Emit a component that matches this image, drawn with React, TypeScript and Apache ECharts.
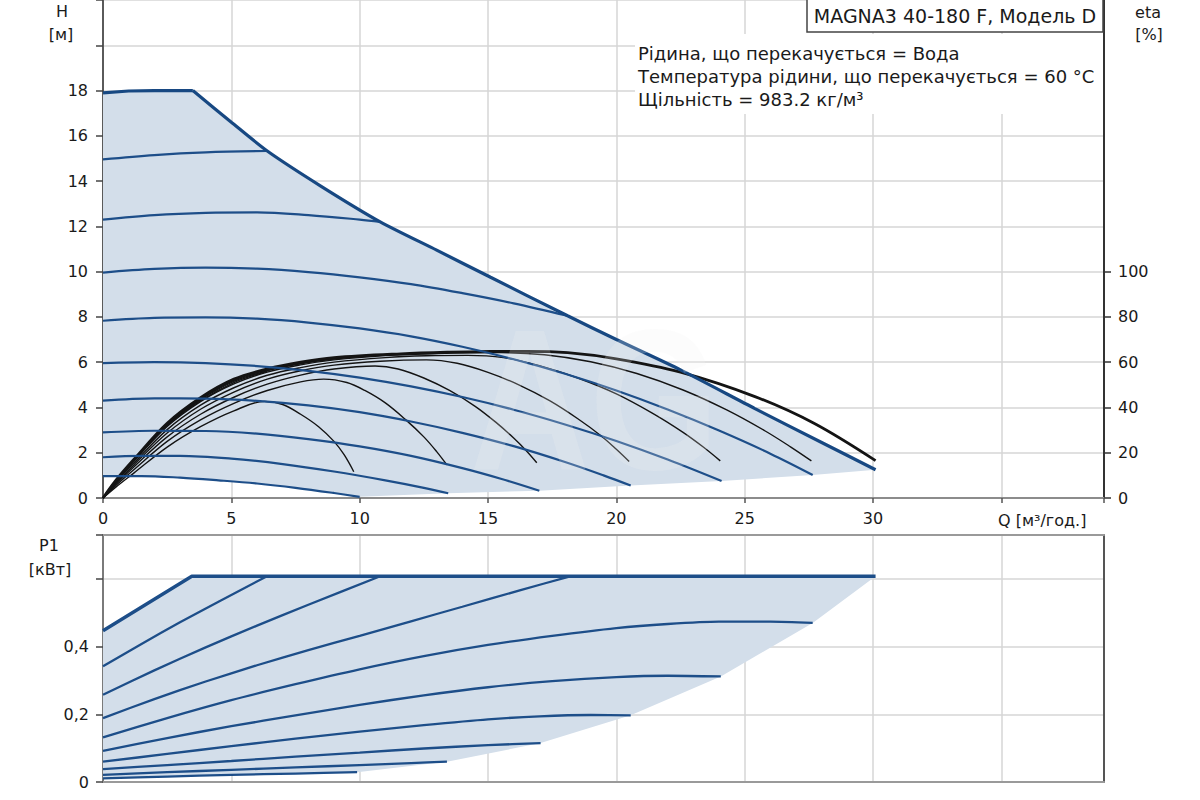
import React, { useEffect, useRef } from "react";
import * as echarts from "echarts";

// ---------- tick labels ----------
const Q_LABELS = [0, 5, 10, 15, 20, 25, 30];
const H_LABELS = [0, 2, 4, 6, 8, 10, 12, 14, 16, 18];
const ETA_LABELS = [0, 20, 40, 60, 80, 100];
const P_LABELS = ["0", "0,2", "0,4"];

// ---------- H curves [Q m3/h, H m] ----------
const H_MAX_FLAT = [[0, 17.9], [1, 17.98], [2, 18], [3.5, 18]];
const H_MAX_DROP = [[3.5, 18], [5, 16.6], [6.4, 15.33], [8.5, 13.77], [10.8, 12.2], [13, 10.95], [15.1, 9.75], [18.1, 8.05], [20, 7.0], [22.5, 5.66], [25.4, 3.95], [28, 2.45], [30.1, 1.25]];
const H_150 = [[0, 14.96], [2, 15.15], [4, 15.27], [6.4, 15.33]];
const H_123 = [[0, 12.3], [2, 12.5], [4, 12.6], [6, 12.62], [8, 12.5], [10, 12.3], [10.8, 12.2]];
const H_100 = [[0, 9.96], [2, 10.12], [4, 10.18], [6, 10.13], [8, 9.98], [10, 9.75], [12, 9.45], [14, 9.05], [16, 8.6], [18.1, 8.05]];
const H_079 = [[0, 7.83], [2, 7.96], [4, 7.98], [6, 7.92], [8, 7.75], [10, 7.49], [12, 7.14], [14, 6.68], [16, 6.13], [18, 5.49], [20, 4.75], [22, 3.91], [24, 2.98], [26, 1.96], [27.65, 1.02]];
const H_060 = [[0, 5.96], [2, 6.0], [4, 5.96], [6, 5.83], [8, 5.62], [10, 5.32], [12, 4.93], [14, 4.46], [16, 3.9], [18, 3.25], [20, 2.52], [22, 1.7], [24.1, 0.75]];
const H_043 = [[0, 4.3], [2, 4.4], [4, 4.39], [6, 4.29], [8, 4.09], [10, 3.79], [12, 3.38], [14, 2.88], [16, 2.29], [18, 1.59], [19.5, 1.0], [20.56, 0.55]];
const H_029 = [[0, 2.9], [2, 2.97], [4, 2.96], [6, 2.84], [8, 2.6], [10, 2.28], [12, 1.86], [14, 1.32], [15.5, 0.85], [17, 0.32]];
const H_018 = [[0, 1.8], [1.5, 1.86], [3, 1.86], [5, 1.74], [7, 1.5], [9, 1.17], [11, 0.78], [12.5, 0.45], [13.45, 0.21]];
const H_010 = [[0, 0.97], [1.5, 0.97], [3, 0.9], [4.5, 0.78], [6, 0.64], [7.5, 0.45], [9, 0.22], [10, 0.05]];

// ---------- efficiency curves [Q, eta %] ----------
const ETA_MAX = [[0, 0], [0.5, 7.8], [1.2, 17], [2.5, 33], [3.8, 44.3], [5.1, 52.5], [6.4, 57], [7.7, 60], [9, 62], [11.6, 63.7], [13.5, 64.4], [15.1, 64.7], [16.5, 64.8], [18.1, 64.2], [20, 61.5], [22.5, 55.6], [25.4, 44.8], [27.7, 33], [30.1, 16.5]];
const ETA_150 = [[0, 0], [0.5, 7.5], [1.2, 16.4], [2.5, 32], [3.8, 43], [5.1, 51], [6.4, 56]];
const ETA_123 = [[0, 0], [0.5, 7.6], [1.2, 16.6], [2.5, 32.3], [3.8, 43.4], [5.1, 51.5], [6.4, 56.2], [7.7, 59.3], [9, 61.4], [10.8, 63]];
const ETA_100 = [[0, 0], [0.5, 7.7], [1.2, 16.8], [2.5, 32.6], [3.8, 43.8], [5.1, 52], [6.4, 56.6], [7.7, 59.6], [9, 61.6], [11, 63.3], [13, 64.2], [15, 64.6], [16.5, 64.6], [18.1, 64.2]];
const ETA_079 = [[0, 0], [0.5, 7.4], [1.2, 16.2], [2.5, 31.6], [3.8, 42.6], [5.1, 50.4], [6.4, 55.6], [7.7, 58.8], [9, 61], [11, 62.9], [13, 63.8], [15.5, 64.2], [17.2, 63.3], [19, 60.2], [20.8, 55], [22.6, 47.7], [24.3, 38.9], [25.8, 29.6], [26.8, 22.5], [27.6, 16.4]];
const ETA_060 = [[0, 0], [0.5, 7], [1.2, 15.4], [2.5, 30.2], [3.8, 41], [5.1, 48.7], [6.4, 54.2], [7.7, 57.6], [9, 60], [11, 62], [12.6, 62.8], [14.2, 63], [15.6, 62], [17, 58.5], [18.5, 53], [20, 46], [21.4, 37.5], [22.6, 29], [23.4, 22.4], [24.05, 16.4]];
const ETA_043 = [[0, 0], [0.5, 6.5], [1.2, 14.6], [2.5, 28.7], [3.8, 39.2], [5.1, 46.8], [6.4, 52.5], [7.7, 56.2], [9, 58.7], [10.8, 60.4], [12.6, 61], [13.8, 59.5], [15, 55.5], [16.2, 50], [17.4, 43], [18.5, 35], [19.4, 27.5], [20, 21.5], [20.5, 16.1]];
const ETA_029 = [[0, 0], [0.5, 6], [1.2, 13.7], [2.5, 27], [3.8, 37], [5.1, 44.5], [6.4, 50.3], [7.7, 54.3], [9, 57], [10.6, 58.3], [11.5, 57], [12.5, 53], [13.5, 47.5], [14.5, 40.5], [15.3, 33.5], [16, 26.5], [16.5, 20.8], [16.9, 15.6]];
const ETA_018 = [[0, 0], [0.5, 5.5], [1.2, 12.5], [2.5, 25], [3.8, 34.5], [5.1, 41.8], [6.4, 47.5], [7.7, 51.3], [8.6, 52.5], [9.5, 51], [10.2, 47.5], [11, 42], [11.8, 34.5], [12.5, 27], [13, 20.5], [13.4, 14.6]];
const ETA_010 = [[0, 0], [0.5, 4.8], [1.2, 11], [2.5, 22.5], [3.8, 31.5], [5.1, 38.5], [6.3, 42.7], [7, 41.3], [7.7, 37], [8.4, 31.5], [9, 25], [9.4, 19], [9.77, 11.6]];

// ---------- power curves [Q, P1 kW] ----------
const P_MAX = [[0, 0.447], [3.46, 0.608], [30.1, 0.608]];
const P_150 = [[0, 0.342], [1.5, 0.408], [3, 0.472], [4.5, 0.533], [6.39, 0.608]];
const P_123 = [[0, 0.258], [2, 0.33], [4, 0.398], [6, 0.462], [8, 0.524], [10.8, 0.608]];
const P_100 = [[0, 0.189], [2, 0.245], [4, 0.297], [6, 0.345], [8, 0.39], [10, 0.432], [12, 0.475], [14, 0.518], [16.27, 0.567], [18.2, 0.608]];
const P_079 = [[0, 0.132], [2.5, 0.189], [5, 0.242], [7.5, 0.289], [10, 0.333], [12.5, 0.372], [15, 0.405], [17.5, 0.432], [20, 0.455], [22, 0.467], [24, 0.474], [26, 0.474], [27.65, 0.47]];
const P_060 = [[0, 0.092], [2.5, 0.13], [5, 0.165], [7.5, 0.197], [10, 0.228], [12.5, 0.256], [15, 0.28], [17.5, 0.298], [20, 0.31], [22, 0.314], [24.07, 0.312]];
const P_043 = [[0, 0.06], [2.5, 0.083], [5, 0.106], [7.5, 0.128], [10, 0.149], [12.5, 0.168], [15, 0.185], [17, 0.194], [19, 0.198], [20.56, 0.197]];
const P_029 = [[0, 0.038], [2.5, 0.05], [5, 0.062], [7.5, 0.075], [10, 0.087], [12.5, 0.099], [15, 0.109], [17.05, 0.115]];
const P_018 = [[0, 0.021], [2.5, 0.029], [5, 0.036], [7.5, 0.043], [10, 0.05], [12, 0.056], [13.4, 0.06]];
const P_010 = [[0, 0.011], [2.5, 0.016], [5, 0.021], [7.5, 0.025], [9.9, 0.029]];

// ---------- texts ----------
const TITLE = "MAGNA3 40-180 F, Модель D";
const INFO_LINES = [
  "Рідина, що перекачується = Вода",
  "Температура рідини, що перекачується = 60 °C",
  "Щільність = 983.2 кг/м³",
];

const last = (a: number[][]) => a[a.length - 1];

const TOP_FILL = [
  ...H_MAX_FLAT,
  ...H_MAX_DROP.slice(1),
  ...[H_079, H_060, H_043, H_029, H_018].map(last),
  ...[...H_010].reverse(),
];
const BOTTOM_FILL = [
  ...P_MAX,
  ...[P_079, P_060, P_043, P_029, P_018].map(last),
  ...[...P_010].reverse(),
];

const FILL = "#d3deea";
const BLUE = "#1d4e89";
const BLUE_MAX = "#174882";
const BLACK = "#141414";
const GRID_LINE = "#d6d6d6";
const FONT = "DejaVu Sans";
const LABEL = { color: "#1a1a1a", fontSize: 16, fontFamily: FONT };

export default function App() {
  const ref = useRef<HTMLDivElement>(null);

  useEffect(() => {
    if (!ref.current) return;
    const chart = echarts.init(ref.current, undefined, { renderer: "svg" });

    const blueLine = (data: number[][], width = 2.2, color = BLUE, z = 4, smooth: number | boolean = 0.35) => ({
      type: "line",
      xAxisIndex: 0,
      yAxisIndex: 0,
      data,
      smooth,
      showSymbol: false,
      silent: true,
      z,
      lineStyle: { color, width },
    });
    const etaLine = (data: number[][], width = 1.4) => ({
      type: "line",
      xAxisIndex: 1,
      yAxisIndex: 2,
      data,
      smooth: 0.35,
      showSymbol: false,
      silent: true,
      z: 3,
      lineStyle: { color: BLACK, width },
    });
    const powerLine = (data: number[][], width = 2.3, smooth: number | boolean = 0.25) => ({
      type: "line",
      xAxisIndex: 2,
      yAxisIndex: 3,
      data,
      smooth,
      showSymbol: false,
      silent: true,
      z: 4,
      lineStyle: { color: BLUE, width },
    });

    const text = (t: string, x: number, y: number, size = 16, align = "center") => ({
      type: "text", z: 12, x, y, silent: true,
      style: { text: t, fontSize: size, fontFamily: FONT, fill: "#1a1a1a", textAlign: align, textVerticalAlign: "middle" },
    });

    const option: any = {
      animation: false,
      backgroundColor: "#ffffff",
      textStyle: { fontFamily: FONT },
      grid: [
        { left: 103, top: 0, width: 1001, height: 498 },
        { left: 103, top: 271.6, width: 1001, height: 226.4 },
        { left: 103, top: 535, width: 1001, height: 247 },
      ],
      xAxis: [
        {
          type: "value", gridIndex: 0, min: 0, max: 39, interval: 5,
          axisLine: { show: true, onZero: false, lineStyle: { color: "#8c8c8c", width: 2 } },
          axisTick: { show: true, length: 5, lineStyle: { color: "#555", width: 1.5 } },
          axisLabel: { ...LABEL, margin: 12, formatter: (v: number) => (Q_LABELS.includes(v) ? String(v) : "") },
          splitLine: { show: true, lineStyle: { color: GRID_LINE, width: 1.5 } },
        },
        { type: "value", gridIndex: 1, min: 0, max: 39, show: false },
        {
          type: "value", gridIndex: 2, min: 0, max: 39, interval: 5,
          axisLine: { show: true, onZero: false, lineStyle: { color: "#9a9a9a", width: 2 } },
          axisTick: { show: false },
          axisLabel: { show: false },
          splitLine: { show: true, lineStyle: { color: GRID_LINE, width: 1.5 } },
        },
        {
          type: "value", gridIndex: 2, position: "top", min: 0, max: 39,
          axisLine: { show: true, onZero: false, lineStyle: { color: "#9a9a9a", width: 2 } },
          axisTick: { show: false }, axisLabel: { show: false }, splitLine: { show: false },
        },
      ],
      yAxis: [
        {
          type: "value", gridIndex: 0, position: "left", min: 0, max: 22, interval: 2,
          axisLine: { show: true, onZero: false, lineStyle: { color: "#5a5a5a", width: 2 } },
          axisTick: { show: true, length: 7, lineStyle: { color: "#444", width: 1.5 } },
          axisLabel: { ...LABEL, margin: 15, formatter: (v: number) => (H_LABELS.includes(v) ? String(v) : "") },
          splitLine: { show: true, lineStyle: { color: GRID_LINE, width: 1.5 } },
        },
        {
          type: "value", gridIndex: 0, position: "right", min: 0, max: 22,
          axisLine: { show: true, onZero: false, lineStyle: { color: "#333", width: 2 } },
          axisTick: { show: false }, axisLabel: { show: false }, splitLine: { show: false },
        },
        {
          type: "value", gridIndex: 1, position: "right", min: 0, max: 100, interval: 20,
          axisLine: { show: false, onZero: false },
          axisTick: { show: true, length: 7, lineStyle: { color: "#333", width: 1.5 } },
          axisLabel: { ...LABEL, margin: 14, formatter: (v: number) => (ETA_LABELS.includes(v) ? String(v) : "") },
          splitLine: { show: false },
        },
        {
          type: "value", gridIndex: 2, position: "left", min: 0, max: 0.73, interval: 0.2,
          axisLine: { show: true, onZero: false, lineStyle: { color: "#7a7a7a", width: 2 } },
          axisTick: { show: true, length: 7, lineStyle: { color: "#444", width: 1.5 } },
          axisLabel: { ...LABEL, margin: 14, formatter: (_v: number, i: number) => P_LABELS[i] ?? "" },
          splitLine: { show: true, lineStyle: { color: GRID_LINE, width: 1.5 } },
        },
        {
          type: "value", gridIndex: 2, position: "right", min: 0, max: 0.73,
          axisLine: { show: true, onZero: false, lineStyle: { color: "#555", width: 2 } },
          axisTick: { show: false }, axisLabel: { show: false }, splitLine: { show: false },
        },
      ],
      series: [
        {
          type: "custom", xAxisIndex: 0, yAxisIndex: 0, z: 1, silent: true, data: [[0, 0]],
          renderItem: (_p: any, api: any) => ({
            type: "polygon",
            shape: { points: TOP_FILL.map((pt) => api.coord(pt)) },
            style: { fill: FILL, stroke: "none" },
          }),
        },
        {
          type: "custom", xAxisIndex: 2, yAxisIndex: 3, z: 1, silent: true, data: [[0, 0]],
          renderItem: (_p: any, api: any) => ({
            type: "polygon",
            shape: { points: BOTTOM_FILL.map((pt) => api.coord(pt)) },
            style: { fill: FILL, stroke: "none" },
          }),
        },
        ...[ETA_010, ETA_018, ETA_029, ETA_043, ETA_060, ETA_079, ETA_100, ETA_123, ETA_150].map((d) => etaLine(d)),
        etaLine(ETA_MAX, 2.8),
        ...[H_150, H_123, H_100, H_079, H_060, H_043, H_029, H_018, H_010].map((d) => blueLine(d)),
        blueLine(H_MAX_FLAT, 3.2, BLUE_MAX, 5, false),
        blueLine(H_MAX_DROP, 3.2, BLUE_MAX, 5, 0.25),
        ...[P_150, P_123, P_100, P_079, P_060, P_043, P_029, P_018, P_010].map((d) => powerLine(d)),
        powerLine(P_MAX, 3.4, false),
      ],
      graphic: [
        {
          type: "text", x: 470, y: 300, z: 6, silent: true, scaleX: 0.83,
          style: { text: "AG", fontSize: 200, fontWeight: "bold", fontFamily: "Liberation Sans", fill: "rgba(240,240,240,0.22)" },
        },
        { type: "rect", z: 10, silent: true, shape: { x: 635, y: 34, width: 468, height: 80 }, style: { fill: "#ffffff" } },
        { type: "rect", z: 11, silent: true, shape: { x: 807, y: -1, width: 296, height: 33 }, style: { fill: "#ffffff", stroke: "#444", lineWidth: 1.5 } },
        text(TITLE, 955, 16, 19),
        ...INFO_LINES.map((t, i) => text(t, 638, 53 + i * 23, 18, "left")),
        text("H", 62, 11),
        text("[м]", 61, 34),
        text("eta", 1148, 12),
        text("[%]", 1149, 34),
        text("Q [м³/год.]", 998, 520, 16, "left"),
        text("P1", 49, 545),
        text("[кВт]", 50, 569),
      ],
    };

    chart.setOption(option);
    return () => chart.dispose();
  }, []);

  return (
    <div
      ref={ref}
      style={{ position: "fixed", left: 0, top: 0, width: 1200, height: 800, background: "#fff" }}
    />
  );
}
